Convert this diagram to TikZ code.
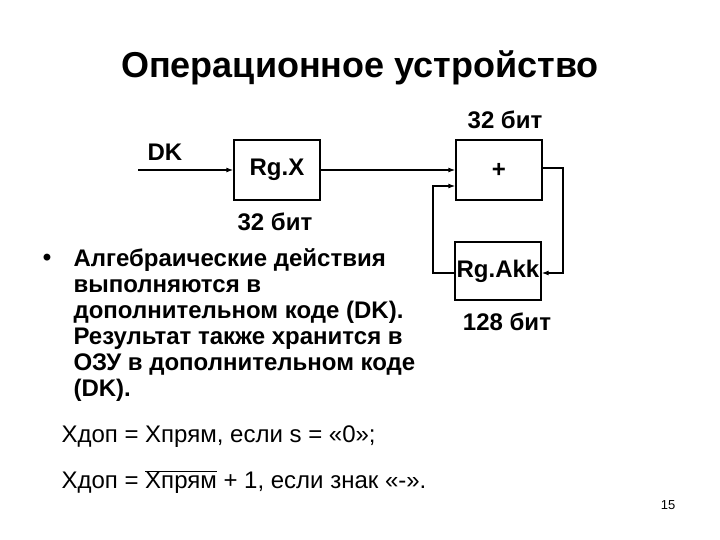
\documentclass[tikz,border=0pt]{standalone}
\usepackage{fontspec}
\setmainfont{Liberation Sans}
\usetikzlibrary{arrows.meta}
\begin{document}
\begin{tikzpicture}[x=1pt,y=-1pt,
  box/.style={draw,line width=1.3pt,minimum width=86pt,minimum height=60pt,font=\fontsize{24}{28}\selectfont\bfseries},
  lbl/.style={font=\fontsize{24}{28}\selectfont\bfseries},
  wire/.style={line width=1.3pt,-{Latex[length=7pt,width=5pt]}}]
\useasboundingbox (0,0) rectangle (720,540);
\node[font=\fontsize{36}{40}\selectfont\bfseries] (title) at (360,68) {Операционное устройство};
\node[box] (rgx) at (277,170) {Rg.X};
\node[box] (plus) at (499,170) {+};
\node[box,minimum height=58pt,inner sep=1pt] (akk) at (498,271) {Rg.Akk};
\node[lbl] (b1) at (505,120) {32 бит};
\node[lbl] (b2) at (275,222) {32 бит};
\node[lbl] (b3) at (507,322) {128 бит};
\node[lbl,anchor=west] (dk) at (144,152) {DK};
\coordinate (dks) at (138,170);
\draw[wire] (dks) -- (rgx.west);
\draw[wire] (rgx.east) -- (plus.west |- rgx.east);
\coordinate (r1) at (563,168);
\coordinate (r2) at (563,273);
\draw[wire] (plus.east |- r1) -- (r1) -- (r2) -- (akk.east |- r2);
\coordinate (l1) at (433,273);
\coordinate (l2) at (433,186);
\draw[wire] (akk.west |- l1) -- (l1) -- (l2) -- (plus.west |- l2);
\node[anchor=north west,align=left,font=\fontsize{24}{26}\selectfont\bfseries] (txt) at (70,245)
 {Алгебраические действия\\ выполняются в\\ дополнительном коде (DK).\\ Результат также хранится в\\ ОЗУ в дополнительном коде\\ (DK).};
\node[font=\fontsize{24}{24}\selectfont\bfseries] (bul) at (47,260) {•};
\node[anchor=west,font=\fontsize{24}{28}\selectfont] (f1) at (58,437) {Хдоп = Хпрям, если s = «0»;};
\node[anchor=west,font=\fontsize{24}{28}\selectfont] (f2) at (58,482) {Хдоп = $\overline{\hbox{Хпрям}}$ + 1, если знак «-».};
\node[font=\fontsize{13}{15}\selectfont] (pg) at (668,505) {15};
\end{tikzpicture}
\end{document}
